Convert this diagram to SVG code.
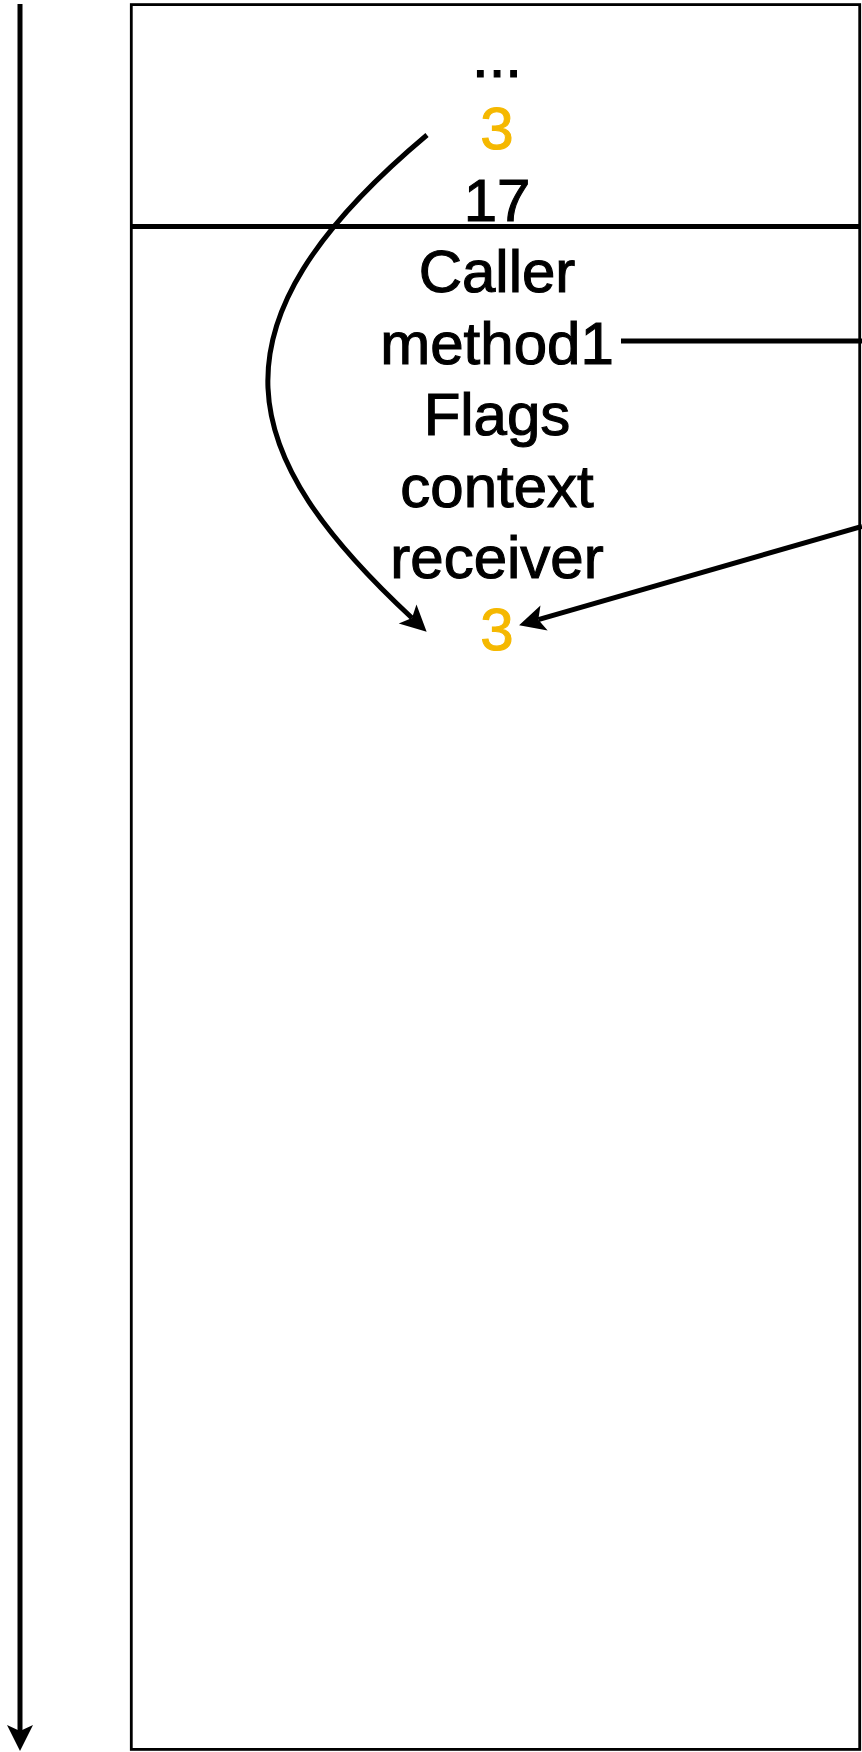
<svg xmlns="http://www.w3.org/2000/svg" width="862" height="1752" viewBox="0 0 862 1752">
  <style>
    .t { font-family: "Liberation Sans", Arial, Helvetica, sans-serif; font-size: 60px; text-anchor: middle; fill: #000000; stroke: #000000; stroke-width: 1.1; }
    .o { fill: #F5B800; stroke: #F5B800; }
    .ln { fill: none; stroke: #000000; stroke-width: 5; }
  </style>
  <defs>
    <marker id="arr" markerUnits="userSpaceOnUse" markerWidth="32" markerHeight="32" viewBox="-2 -16 32 32" refX="6" refY="0" orient="auto">
      <path d="M26,0 L0,-13 L6,0 L0,13 Z" fill="#000000"/>
    </marker>
  </defs>
  <rect width="862" height="1752" fill="#ffffff"/>
  <g id="stack">
    <rect x="131.3" y="4.6" width="728.4" height="1744.8" fill="none" stroke="#000000" stroke-width="2.8"/>
    <line x1="131" y1="226.5" x2="860" y2="226.5" stroke="#000000" stroke-width="5"/>
  </g>
  <g id="labels">
    <text class="t" x="497" y="77">...</text>
    <text class="t o" x="497" y="149">3</text>
    <text class="t" x="497" y="220.5">17</text>
    <text class="t" x="497" y="292">Caller</text>
    <text class="t" x="497" y="363.5">method1</text>
    <text class="t" x="497" y="435">Flags</text>
    <text class="t" x="497" y="506.5">context</text>
    <text class="t" x="497" y="578">receiver</text>
    <text class="t o" x="497" y="650">3</text>
  </g>
  <g id="connectors">
    <line class="ln" x1="20" y1="4" x2="20" y2="1731" marker-end="url(#arr)"/>
    <path class="ln" d="M427,135 C197,328 238,456 412,618" marker-end="url(#arr)"/>
    <line class="ln" x1="621" y1="341" x2="862" y2="341"/>
    <path class="ln" d="M862,526.4 L538.3,619.7" marker-end="url(#arr)"/>
  </g>
</svg>
